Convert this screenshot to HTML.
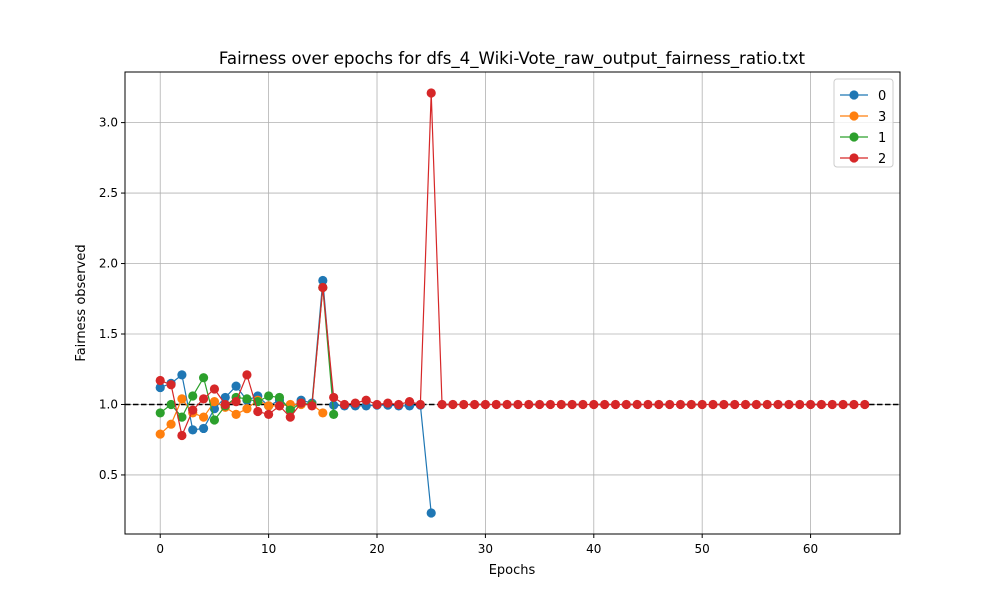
<!DOCTYPE html>
<html><head><meta charset="utf-8"><style>
body{margin:0;background:#fff;font-family:"Liberation Sans","DejaVu Sans",sans-serif}
</style></head><body>
<svg id="chart" width="1000" height="600" xmlns="http://www.w3.org/2000/svg" font-family="DejaVu Sans, Liberation Sans, sans-serif">
<rect width="1000" height="600" fill="#fff"/>
<text x="512" y="64" text-anchor="middle" font-size="16.6">Fairness over epochs for dfs_4_Wiki-Vote_raw_output_fairness_ratio.txt</text>
<g id="grid"></g>
<g id="plot"></g>
<rect x="125" y="72" width="775" height="462" fill="none" stroke="#000" stroke-width="1"/>
<text x="512" y="574" text-anchor="middle" font-size="13">Epochs</text>
<text transform="translate(85,303) rotate(-90)" text-anchor="middle" font-size="13">Fairness observed</text>
<g id="legend"></g>
</svg>
<script>
const seriesNames = ["0","3","1","2"];
const colors = ["#1f77b4","#ff7f0e","#2ca02c","#d62728"];
const s0 = [1.12,1.15,1.21,0.82,0.83,0.97,1.05,1.13,1.03,1.06,0.99,1.03,0.97,1.03,1.01,1.88,0.995,0.99,0.99,0.99,0.995,0.995,0.99,0.99,0.995,0.23];
const s3 = [0.79,0.86,1.04,0.94,0.91,1.02,0.98,0.93,0.97,1.03,0.99,0.99,1.0,1.0,1.0,0.94];
const s1 = [0.94,1.0,0.91,1.06,1.19,0.89,0.99,1.05,1.04,1.02,1.06,1.05,0.96,1.01,1.0,1.83,0.93];
const s2 = [1.17,1.14,0.78,0.96,1.04,1.11,1.0,1.02,1.21,0.95,0.93,0.99,0.91,1.01,0.99,1.83,1.05,1.0,1.01,1.03,1.0,1.01,1.0,1.02,1.0,3.21];
const s2Tail = 1.0;
const numEpochs = 66;
const xTicks = [0,10,20,30,40,50,60];
const yTicks = [0.5,1.0,1.5,2.0,2.5,3.0];
const refLine = 1.0;

function pad(a){const r=a.slice();while(r.length<numEpochs)r.push(s2Tail);return r;}
const allSeries=[s0,s3,s1,pad(s2)];
const L=125,R=900,T=72,B=534;
const xMin=-3.25,xMax=68.25,yMin=0.081,yMax=3.359;
const X=v=>L+(v-xMin)/(xMax-xMin)*(R-L);
const Y=v=>B-(v-yMin)/(yMax-yMin)*(B-T);
const NS="http://www.w3.org/2000/svg";
function mk(t,a,p){const e=document.createElementNS(NS,t);for(const k in a)e.setAttribute(k,a[k]);p.appendChild(e);return e;}
const grid=document.getElementById('grid'),plot=document.getElementById('plot'),svg=document.getElementById('chart');
xTicks.forEach(t=>{
  const g=mk('line',{x1:X(t),x2:X(t),y1:T,y2:B,stroke:'#b0b0b0','stroke-width':0.8},grid);
  
  
  mk('line',{x1:X(t),x2:X(t),y1:B,y2:B+4,stroke:'#000'},grid);
  const tx=mk('text',{x:X(t),y:B+19,'text-anchor':'middle','font-size':12},svg);tx.textContent=t;
  
  
});
yTicks.forEach(t=>{
  const g=mk('line',{x1:L,x2:R,y1:Y(t),y2:Y(t),stroke:'#b0b0b0','stroke-width':0.8},grid);
  
  
  mk('line',{x1:L-4,x2:L,y1:Y(t),y2:Y(t),stroke:'#000'},grid);
  const tx=mk('text',{x:L-7,y:Y(t)+4,'text-anchor':'end','font-size':12},svg);tx.textContent=t.toFixed(1);
  
  
});
const ref=mk('line',{x1:L,x2:R,y1:Y(refLine),y2:Y(refLine),stroke:'#000','stroke-width':1.5,'stroke-dasharray':'5.5,2.5'},plot);


allSeries.forEach((d,i)=>{
  const g=mk('g',{},plot);
  
  
  const pl=mk('polyline',{points:d.map((v,j)=>X(j)+','+Y(v)).join(' '),fill:'none',stroke:colors[i],'stroke-width':1.2},g);
  
  
  d.forEach((v,j)=>{
    const c=mk('circle',{cx:X(j),cy:Y(v),r:4.6,fill:colors[i]},g);
    
    
  });
});
const lg=document.getElementById('legend');
mk('rect',{x:834,y:79,width:59,height:88,rx:3,fill:'#fff','fill-opacity':0.8,stroke:'#ccc'},lg);
seriesNames.forEach((n,i)=>{
  const y=95+i*21;
  const e=mk('g',{},lg);
  
  
  mk('line',{x1:840,x2:868,y1:y,y2:y,stroke:colors[i],'stroke-width':1.2},e);
  mk('circle',{cx:854,cy:y,r:4.6,fill:colors[i]},e);
  const t=mk('text',{x:878,y:y+5,'font-size':13},e);t.textContent=n;
});
</script>
</body></html>
